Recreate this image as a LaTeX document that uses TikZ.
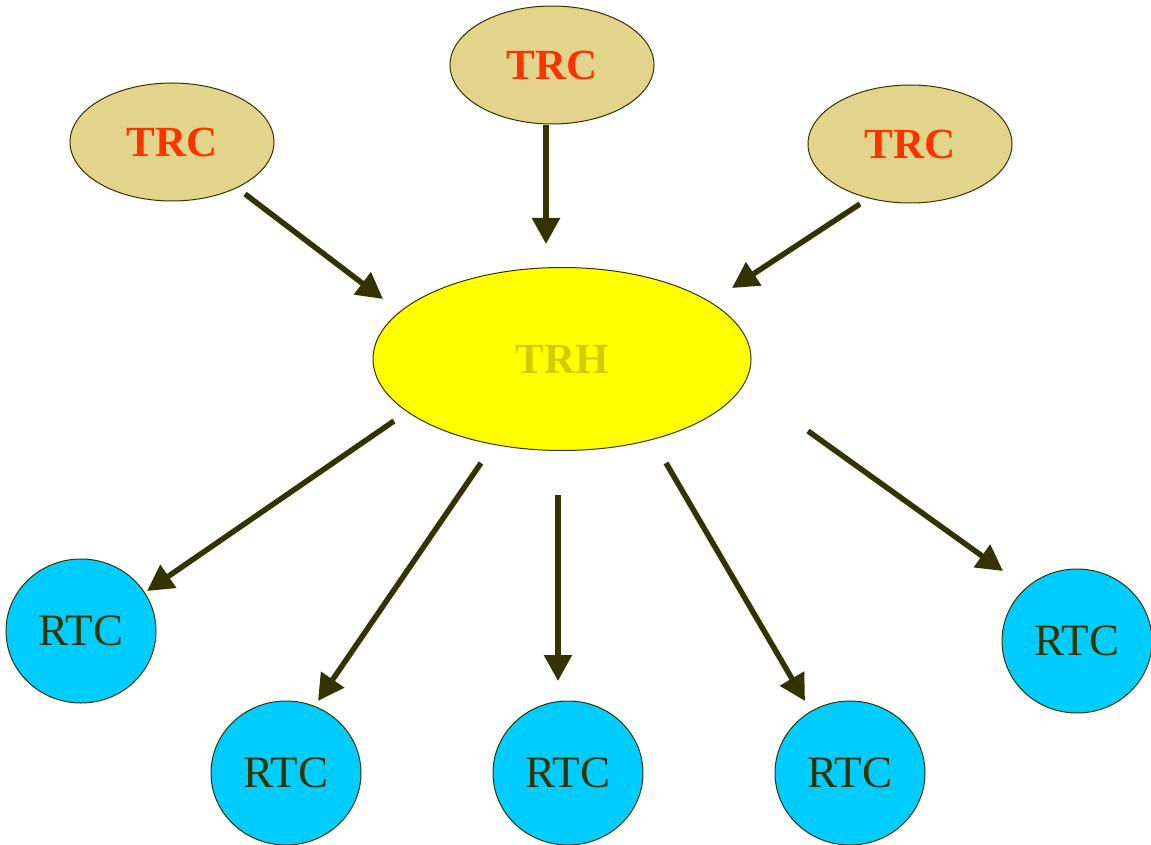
\documentclass[tikz,border=0pt]{standalone}
\usepackage{fontspec}
\setmainfont{Liberation Serif}
\usetikzlibrary{shapes.geometric,arrows.meta}
\definecolor{olive}{HTML}{333300}
\definecolor{tan}{HTML}{E3D48C}
\definecolor{trcred}{HTML}{FF3300}
\definecolor{hubfill}{HTML}{FFFF00}
\definecolor{hubtext}{HTML}{D4CC00}
\definecolor{sky}{HTML}{00CCFF}
\tikzset{
  trc/.style={ellipse, draw=olive, line width=1pt, fill=tan, inner sep=0pt,
    minimum width=204pt, minimum height=118pt, text=trcred,
    font=\fontsize{43}{43}\selectfont\bfseries},
  hub/.style={ellipse, draw=olive, line width=1pt, fill=hubfill, inner sep=0pt,
    minimum width=378pt, minimum height=183pt, text=hubtext,
    font=\fontsize{43}{43}\selectfont\bfseries},
  rtc/.style={ellipse, draw=olive, line width=1pt, fill=sky, inner sep=0pt,
    minimum width=150pt, minimum height=144pt, text=olive,
    font=\fontsize{45}{45}\selectfont},
  link/.style={draw=olive, line width=5.5pt,
    -{Triangle[length=26pt,width=27pt]}}
}
\begin{document}
\begin{tikzpicture}[x=1pt,y=-1pt]
\useasboundingbox (0,0) rectangle (1151,845);
% source nodes
\node[trc] (trcL) at (172,142) {TRC};
\node[trc] (trcT) at (552,65) {TRC};
\node[trc] (trcR) at (910,144) {TRC};
% hub
\node[hub] (trh) at (562,359) {TRH};
% receivers
\node[rtc] (rtc1) at (81,631) {RTC};
\node[rtc] (rtc2) at (286,773) {RTC};
\node[rtc] (rtc3) at (568,773) {RTC};
\node[rtc] (rtc4) at (850,773) {RTC};
\node[rtc] (rtc5) at (1077,641) {RTC};
% arrow end points, free of the shapes
\coordinate (a1s) at (245,194); \coordinate (a1e) at (383,299);
\coordinate (a2s) at (546,125); \coordinate (a2e) at (546,244);
\coordinate (a3s) at (860,204); \coordinate (a3e) at (732,288);
\coordinate (b1s) at (394,421); \coordinate (b1e) at (147,591);
\coordinate (b2s) at (481,463); \coordinate (b2e) at (318,701);
\coordinate (b3s) at (558,495); \coordinate (b3e) at (558,681);
\coordinate (b4s) at (666,463); \coordinate (b4e) at (805,701);
\coordinate (b5s) at (808,431); \coordinate (b5e) at (1003,571);
% connectors
\draw[link] (a1s) -- (a1e);
\draw[link] (a2s) -- (a2e);
\draw[link] (a3s) -- (a3e);
\draw[link] (b1s) -- (b1e);
\draw[link] (b2s) -- (b2e);
\draw[link] (b3s) -- (b3e);
\draw[link] (b4s) -- (b4e);
\draw[link] (b5s) -- (b5e);
\end{tikzpicture}
\end{document}
